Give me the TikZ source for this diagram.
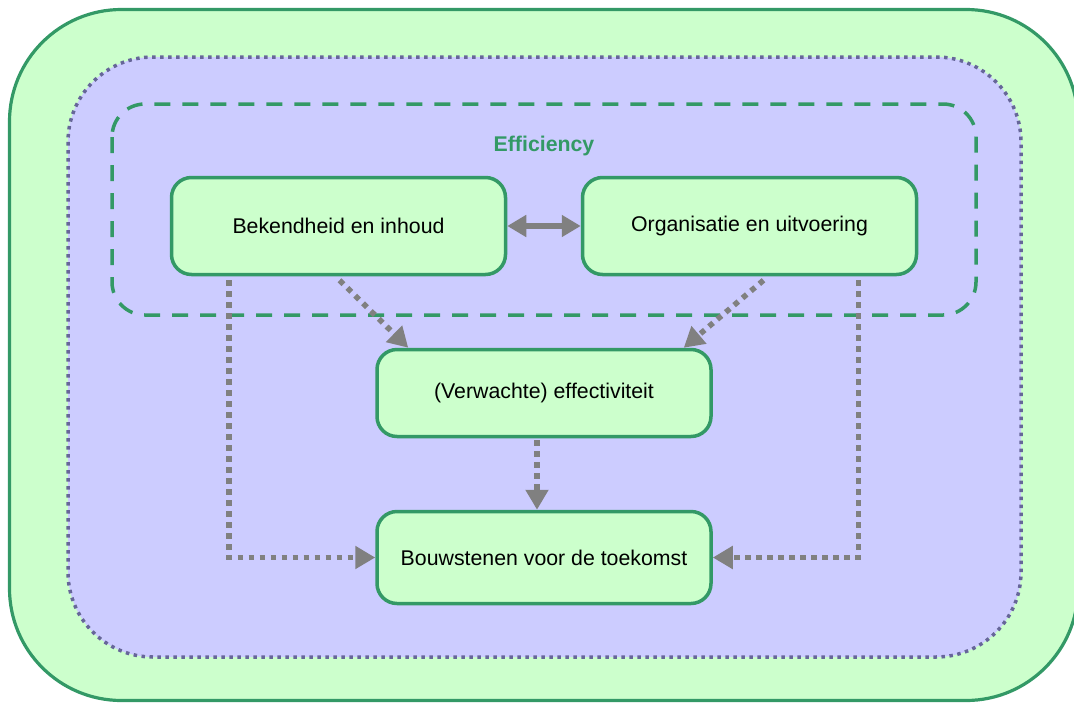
\documentclass[tikz,border=0pt]{standalone}
\usepackage{fontspec}
\setmainfont{Liberation Sans}
\usetikzlibrary{arrows.meta,calc}
\definecolor{lgreen}{HTML}{CCFFCC}
\definecolor{dgreen}{HTML}{339966}
\definecolor{lblue}{HTML}{CCCCFF}
\definecolor{dblue}{HTML}{666699}
\definecolor{agray}{HTML}{808080}
\begin{document}
\begin{tikzpicture}[x=1pt,y=-1pt,
  box/.style={draw=dgreen, fill=lgreen, line width=3.5pt, rounded corners=20pt,
    minimum width=334pt, font=\fontsize{21.3}{25}\selectfont, text=black, inner sep=0pt},
  dotarrow/.style={draw=agray, line width=5.5pt, dash pattern=on 5.5pt off 5.5pt,
    -{Triangle[length=20pt,width=22pt]}},
  solidarrow/.style={draw=agray, line width=6.5pt,
    {Triangle[length=19pt,width=21pt]}-{Triangle[length=19pt,width=21pt]}}]
\useasboundingbox (0,0) rectangle (1074,702);
\clip (0,0) rectangle (1074,702);
% outer green
\draw[draw=dgreen, fill=lgreen, line width=3.2pt, rounded corners=112pt] (9.5,9.5) rectangle (1078,700.5);
% inner blue dotted
\draw[draw=dblue, fill=lblue, line width=3.5pt, dash pattern=on 3.5pt off 4.5pt, rounded corners=85pt] (68,57) rectangle (1021,657);
% dashed efficiency frame
\draw[draw=dgreen, line width=3.5pt, dash pattern=on 16pt off 12pt, rounded corners=33pt] (112,104) rectangle (976,315);
\node[text=dgreen, font=\fontsize{21.3}{25}\selectfont\bfseries] (eff) at (544,146) {Efficiency};
% nodes
\node[box, minimum height=97pt] (b1) at (338.5,226) {Bekendheid en inhoud};
\node[box, minimum height=97pt] (b2) at (749.5,226) {Organisatie en uitvoering};
\node[box, minimum height=87pt] (v) at (544,393) {(Verwachte) effectiviteit};
\node[box, minimum height=92pt] (bw) at (544,557.5) {Bouwstenen voor de toekomst};
% connectors
\draw[solidarrow] (b1.east) -- (b2.east -| b2.west);
\draw[dotarrow] ($(b1.south)+(1,4)$) -- ($(v.north west)+(33,0)$);
\draw[dotarrow] ($(b2.south)+(14,4)$) -- ($(v.north east)+(-29,0)$);
\draw[dotarrow] ($(v.south)+(-7,2)$) -- ($(bw.north)+(-7,0)$);
\draw[dotarrow] ($(b1.south west)+(59,4)$) |- (bw.west);
\draw[dotarrow] ($(b2.south east)+(-60,4)$) |- (bw.east);
\end{tikzpicture}
\end{document}
